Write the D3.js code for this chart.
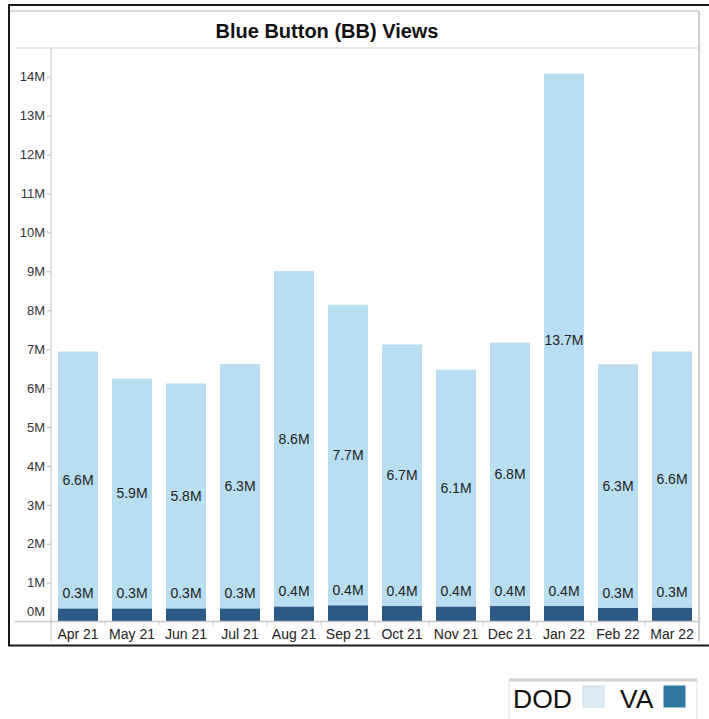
<!DOCTYPE html>
<html>
<head>
<meta charset="utf-8">
<script src="https://cdn.jsdelivr.net/npm/d3@7"></script>
<style>
  body { margin: 0; background: #fff; }
  svg { display: block; font-family: "Liberation Sans", Arial, sans-serif; }
</style>
</head>
<body>
<div id="chart"></div>
<script>
// chart data (millions of views)
const months = ["Apr 21", "May 21", "Jun 21", "Jul 21", "Aug 21", "Sep 21",
                "Oct 21", "Nov 21", "Dec 21", "Jan 22", "Feb 22", "Mar 22"];
const vaViews = [0.34, 0.34, 0.34, 0.34, 0.39, 0.42, 0.40, 0.39, 0.40, 0.40, 0.35, 0.36];
const dodViews = [6.60, 5.90, 5.78, 6.28, 8.62, 7.72, 6.72, 6.08, 6.77, 13.68, 6.26, 6.58];
const vaLabels = ["0.3M", "0.3M", "0.3M", "0.3M", "0.4M", "0.4M", "0.4M", "0.4M", "0.4M", "0.4M", "0.3M", "0.3M"];
const dodLabels = ["6.6M", "5.9M", "5.8M", "6.3M", "8.6M", "7.7M", "6.7M", "6.1M", "6.8M", "13.7M", "6.3M", "6.6M"];
const yTicks = d3.range(0, 15);
const legendItems = [
  { name: "DOD", color: "#dceaf4", stroke: "#c2dcee" },
  { name: "VA", color: "#31789f", stroke: "#31789f" }
];

const W = 709, H = 719;
const plot = { left: 51, right: 699, top: 48, bottom: 621.6 };

const svg = d3.select("#chart").append("svg")
  .attr("width", W)
  .attr("height", H);

// outer frame
svg.append("rect")
  .attr("x", 9).attr("y", 5)
  .attr("width", 710).attr("height", 640.5)
  .attr("fill", "none")
  .attr("stroke", "#1a1a1a")
  .attr("stroke-width", 2);

svg.append("line")
  .attr("x1", 10).attr("x2", 699).attr("y1", 11).attr("y2", 11)
  .attr("stroke", "#d9d9d9").attr("stroke-width", 2);

// Title
svg.append("text")
  .attr("x", 327)
  .attr("y", 37.5)
  .attr("text-anchor", "middle")
  .style("font-size", "20px")
  .style("font-weight", "bold")
  .attr("fill", "#111")
  .text("Blue Button (BB) Views");

// pane borders
svg.append("line")
  .attr("x1", 15).attr("x2", plot.right).attr("y1", plot.top).attr("y2", plot.top)
  .attr("stroke", "#d4d4d4");
svg.append("line")
  .attr("x1", plot.left).attr("x2", plot.left).attr("y1", plot.top).attr("y2", 641)
  .attr("stroke", "#d4d4d4").attr("stroke-width", 1.5);
svg.append("line")
  .attr("x1", plot.right).attr("x2", plot.right).attr("y1", 11).attr("y2", 641)
  .attr("stroke", "#bdbdbd").attr("stroke-width", 1.5);

const x = d3.scaleBand()
  .domain(months)
  .range([plot.left, plot.right])
  .paddingInner(14 / 54)
  .paddingOuter(7 / 54);

const y = d3.scaleLinear()
  .domain([0, (plot.bottom - plot.top) / 38.92])
  .range([plot.bottom, plot.top]);

// y axis
const yAxis = svg.append("g")
  .attr("transform", `translate(${plot.left},0)`)
  .call(d3.axisLeft(y).tickValues(yTicks.slice(1)).tickSize(4).tickPadding(2)
    .tickFormat(d => d + "M"))
  .attr("font-family", null)
  .attr("font-size", null);
yAxis.select(".domain").remove();
yAxis.selectAll(".tick line").attr("stroke", "#bbb");
yAxis.selectAll(".tick text")
  .attr("fill", "#333")
  .style("font-size", "13px");

svg.append("text")
  .attr("x", plot.left - 6)
  .attr("y", plot.bottom - 10.5)
  .attr("dy", "0.35em")
  .attr("text-anchor", "end")
  .attr("fill", "#333")
  .style("font-size", "13px")
  .text("0M");

// stacked bars
const rows = months.map((m, i) => ({ month: m, va: vaViews[i], dod: dodViews[i], i }));

svg.append("g").selectAll("rect.va")
  .data(rows)
  .join("rect")
  .attr("class", "va")
  .attr("x", d => x(d.month))
  .attr("width", x.bandwidth())
  .attr("y", d => y(d.va))
  .attr("height", d => y(0) - y(d.va))
  .attr("fill", "#2c5985");

svg.append("g").selectAll("rect.dod")
  .data(rows)
  .join("rect")
  .attr("class", "dod")
  .attr("x", d => x(d.month))
  .attr("width", x.bandwidth())
  .attr("y", d => y(d.va + d.dod))
  .attr("height", d => y(d.va) - y(d.va + d.dod))
  .attr("fill", "#badef1");

// bar labels
svg.append("g").selectAll("text")
  .data(rows)
  .join("text")
  .attr("x", d => x(d.month) + x.bandwidth() / 2)
  .attr("y", d => (y(d.va) + y(d.va + d.dod)) / 2)
  .attr("dy", "0.35em")
  .attr("text-anchor", "middle")
  .attr("fill", "#222")
  .style("font-size", "14px")
  .text(d => dodLabels[d.i]);

svg.append("g").selectAll("text")
  .data(rows)
  .join("text")
  .attr("x", d => x(d.month) + x.bandwidth() / 2)
  .attr("y", d => y(d.va) - 15)
  .attr("dy", "0.35em")
  .attr("text-anchor", "middle")
  .attr("fill", "#222")
  .style("font-size", "14px")
  .text(d => vaLabels[d.i]);

// x axis
const xAxis = svg.append("g")
  .attr("transform", `translate(0,${plot.bottom})`)
  .call(d3.axisBottom(x).tickSize(0).tickPadding(7))
  .attr("font-family", null)
  .attr("font-size", null);
xAxis.select(".domain").remove();
xAxis.selectAll(".tick text")
  .attr("fill", "#222")
  .style("font-size", "14px");

svg.append("line")
  .attr("x1", 15).attr("x2", plot.right).attr("y1", plot.bottom).attr("y2", plot.bottom)
  .attr("stroke", "#c8c8c8").attr("stroke-width", 1.5);

// separators between category labels
svg.append("g").selectAll("line")
  .data(months.slice(1))
  .join("line")
  .attr("x1", d => x(d) - x.step() * x.paddingInner() / 2)
  .attr("x2", d => x(d) - x.step() * x.paddingInner() / 2)
  .attr("y1", plot.bottom)
  .attr("y2", plot.bottom + 4)
  .attr("stroke", "#ccc");

// legend
const legend = svg.append("g");
legend.append("rect")
  .attr("x", 509).attr("y", 680)
  .attr("width", 188).attr("height", 45)
  .attr("fill", "#fff")
  .attr("stroke", "#e0e0e0");
legend.append("line")
  .attr("x1", 509).attr("x2", 697).attr("y1", 680).attr("y2", 680)
  .attr("stroke", "#d0d0d0").attr("stroke-width", 3);

const legendX = [513, 620];
const swatchX = [583, 664];
legendItems.forEach((d, i) => {
  legend.append("text")
    .attr("x", legendX[i])
    .attr("y", 707.5)
    .attr("fill", "#111")
    .style("font-size", "26.5px")
    .text(d.name);
  legend.append("rect")
    .attr("x", swatchX[i]).attr("y", 686)
    .attr("width", 21).attr("height", 21)
    .attr("fill", d.color)
    .attr("stroke", d.stroke);
});
</script>
</body>
</html>
